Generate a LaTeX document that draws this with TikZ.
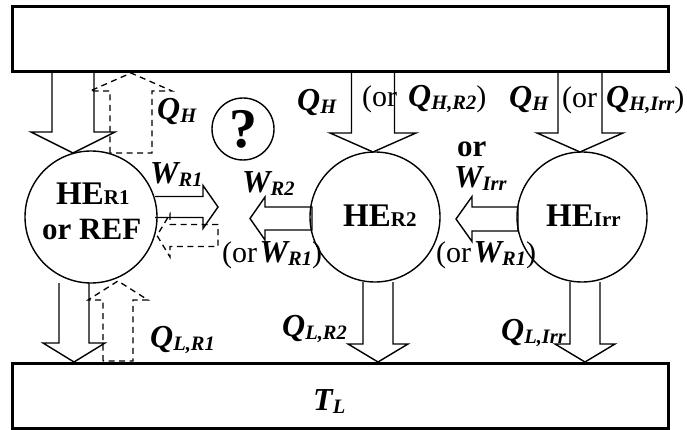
\documentclass[tikz,border=0pt]{standalone}
\usepackage{fontspec}
\setmainfont{Liberation Serif}
\newcommand\lb[2]{{\fontsize{32}{34}\selectfont\bfseries\itshape #1\raisebox{-3pt}{\fontsize{20.5}{22}\selectfont #2}}}
\newcommand\he[1]{{\fontsize{33}{35}\selectfont\bfseries HE{\fontsize{21}{22}\selectfont #1}}}
\newcommand\orpar{{\fontsize{30}{32}\selectfont (or}}
\newcommand\rpar{{\fontsize{30}{32}\selectfont )}}
% vertical block arrow: style, x, y0, ybase, ytip, half shaft, half head
\newcommand\varrow[7]{\draw[#1] ({#2-#6},#3) -- ({#2-#6},#4) -- ({#2-#7},#4) -- (#2,#5) -- ({#2+#7},#4) -- ({#2+#6},#4) -- ({#2+#6},#3);}
\newcommand\varrowc[7]{\draw[#1] ({#2-#6},#3) -- ({#2-#6},#4) -- ({#2-#7},#4) -- (#2,#5) -- ({#2+#7},#4) -- ({#2+#6},#4) -- ({#2+#6},#3) -- cycle;}
% horizontal block arrow: style, y, x0, xbase, xtip, half shaft, half head
\newcommand\harrow[7]{\draw[#1] (#3,{#2-#6}) -- (#4,{#2-#6}) -- (#4,{#2-#7}) -- (#5,#2) -- (#4,{#2+#7}) -- (#4,{#2+#6}) -- (#3,{#2+#6});}
\newcommand\harrowc[7]{\draw[#1] (#3,{#2-#6}) -- (#4,{#2-#6}) -- (#4,{#2-#7}) -- (#5,#2) -- (#4,{#2+#7}) -- (#4,{#2+#6}) -- (#3,{#2+#6}) -- cycle;}
\begin{document}
\begin{tikzpicture}[x=1pt,y=-1pt,
  resbox/.style={draw, line width=3pt, rectangle, inner sep=0pt},
  engine/.style={draw, line width=1.4pt, circle, inner sep=0pt},
  blk/.style={line width=1.4pt, line join=miter},
  dsh/.style={line width=1.3pt, dashed, dash pattern=on 6pt off 4.5pt},
  lbl/.style={anchor=base west, inner sep=0pt}]
\useasboundingbox (0,0) rectangle (687,430);
% reservoirs
\node[resbox, minimum width=656pt, minimum height=65pt] (top) at (340,39.5) {};
\node[resbox, minimum width=656pt, minimum height=65pt] (bot) at (340,395.5) {};
% engines
\node[engine, minimum size=132pt] (r1) at (91,217) {};
\node[engine, minimum size=130pt] (r2) at (375,217) {};
\node[engine, minimum size=130pt] (irr) at (582,217) {};
\node[engine, minimum size=62pt, font=\fontsize{56}{58}\selectfont\bfseries] (q) at (243,129) {?};
% heat in arrows
\varrow{blk}{73}{72}{132}{153}{21}{42}
\varrowc{dsh}{131}{153}{91}{73}{21}{41}
\varrow{blk}{373}{72}{133}{152}{21.5}{43}
\varrow{blk}{580}{72}{133}{152}{22}{43}
% heat out arrows
\varrow{blk}{74}{283}{343}{362}{15}{31}
\varrowc{dsh}{118}{361}{300}{281}{15}{30}
\varrow{blk}{378}{282}{344}{362}{15}{30}
\varrow{blk}{585}{282}{344}{362}{15}{30}
% work arrows
\harrow{blk}{207}{155}{203}{218}{10.5}{21.5}
\harrowc{dsh}{235.5}{218}{170}{157}{11}{21.5}
\harrowc{blk}{218.5}{312}{265}{250}{11.5}{21.5}
\harrowc{blk}{219}{518}{472}{456}{12}{22.5}
% labels
\node[lbl] (qh1) at (157,120) {\lb{Q}{H}};
\node[lbl] (qh2) at (297,111) {\lb{Q}{H}};
\node[lbl] (or1) at (362,107) {\orpar};
\node[lbl] (qhr2) at (408,107) {\lb{Q}{H,R2}\rpar};
\node[lbl] (qh3) at (509,108) {\lb{Q}{H}};
\node[lbl] (or2) at (562,108) {\orpar};
\node[lbl] (qhirr) at (606,108) {\lb{Q}{H,Irr}\rpar};
\node[lbl, font=\fontsize{31}{33}\selectfont\bfseries] (orw) at (457,157) {or};
\node[lbl] (wirr) at (454,188) {\lb{W}{Irr}};
\node[lbl] (wr1) at (150,184) {\lb{W}{R1}};
\node[lbl] (wr2) at (242,193) {\lb{W}{R2}};
\node[lbl] (orw1) at (222,262) {\orpar\ \lb{W}{R1}\rpar};
\node[lbl] (orw2) at (436,262) {\orpar\ \lb{W}{R1}\rpar};
\node[lbl] (qlr1) at (150,347) {\lb{Q}{L,R1}};
\node[lbl] (qlr2) at (282,336) {\lb{Q}{L,R2}};
\node[lbl] (qlirr) at (501,340) {\lb{Q}{L,Irr}};
\node[lbl] (tl) at (313,410) {\lb{T}{L}};
\node[lbl] (her1) at (56,205) {\he{R1}};
\node[lbl, font=\fontsize{31}{33}\selectfont\bfseries] (orref) at (42,240) {or REF};
\node[lbl] (her2) at (343,226) {\he{R2}};
\node[lbl] (heirr) at (546,226) {\he{Irr}};
\end{tikzpicture}
\end{document}
